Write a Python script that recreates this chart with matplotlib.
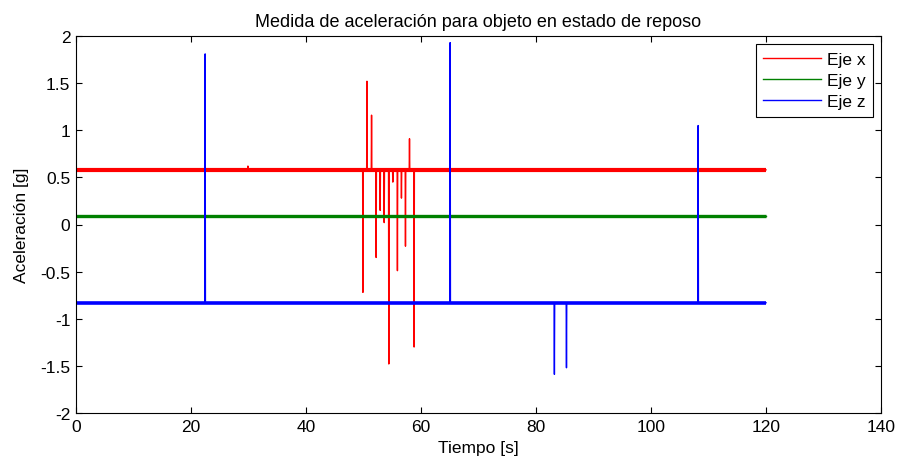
import numpy as np
import matplotlib
matplotlib.use("Agg")
import matplotlib.pyplot as plt

plt.rcParams['font.family'] = ['Liberation Sans', 'DejaVu Sans']
plt.rcParams['axes.unicode_minus'] = False

# ---- data ----
t_end = 120.0
base_x = 0.58
base_y = 0.09
base_z = -0.83

spike_t_x = [29.9, 49.9, 50.6, 51.4, 52.2, 52.9, 53.6, 54.4, 55.1, 55.9, 56.6, 57.3, 58.0, 58.8]
spike_v_x = [0.62, -0.72, 1.52, 1.16, -0.35, 0.15, 0.02, -1.48, 0.45, -0.49, 0.28, -0.23, 0.91, -1.30]

spike_t_y = []
spike_v_y = []

spike_t_z = [22.46, 65.07, 83.2, 85.3, 108.2]
spike_v_z = [1.81, 1.93, -1.59, -1.52, 1.05]

series_names = ["Eje x", "Eje y", "Eje z"]
xticks = [0, 20, 40, 60, 80, 100, 120, 140]
yticks = [-2, -1.5, -1, -0.5, 0, 0.5, 1, 1.5, 2]


def build(base, st, sv, dt=0.05):
    t = [0.0]
    v = [base]
    for ti, vi in zip(st, sv):
        t += [ti - dt, ti, ti + dt]
        v += [base, vi, base]
    t.append(t_end)
    v.append(base)
    return np.array(t), np.array(v)


fig = plt.figure(figsize=(8.99, 4.64), dpi=100)
# axes: left 76 px, right 881 px, top 37 px, bottom 414 px
ax = fig.add_axes([76 / 899, (464 - 414) / 464, (881 - 76) / 899, (414 - 37) / 464])

colors = [(1, 0, 0), (0, 0.5, 0), (0, 0, 1)]
bases = [base_x, base_y, base_z]
spikes = [(spike_t_x, spike_v_x), (spike_t_y, spike_v_y), (spike_t_z, spike_v_z)]
band_lw = [3.0, 2.4, 2.6]

for name, c, b, (st, sv), blw in zip(series_names, colors, bases, spikes, band_lw):
    t, v = build(b, st, sv)
    ax.plot([0, t_end], [b, b], color=c, lw=blw, solid_capstyle='butt')
    ax.plot(t, v, color=c, lw=1.0, label=name)

fs = 12.5
ax.set_xlim(0, 140)
ax.set_ylim(-2, 2)
ax.set_xticks(xticks)
ax.set_xticklabels([f"{x:g}" for x in xticks])
ax.set_yticks(yticks)
ax.set_yticklabels([f"{y:g}" for y in yticks])
ax.tick_params(direction='in', top=True, right=True, length=4, width=0.8,
               labelsize=fs, pad=4)
for s in ax.spines.values():
    s.set_linewidth(0.8)

ax.set_title("Medida de aceleración para objeto en estado de reposo", fontsize=13, pad=7)
ax.set_xlabel("Tiempo [s]", fontsize=fs, labelpad=5)
ax.set_ylabel("Aceleración [g]", fontsize=fs, labelpad=8)

leg = ax.legend(loc='upper right', fontsize=fs, handlelength=3.3, handletextpad=0.35,
                borderaxespad=0.45, fancybox=False, framealpha=1, edgecolor='black',
                labelspacing=0.35, borderpad=0.45)
leg.get_frame().set_linewidth(0.8)

fig.savefig("out.png", dpi=100)
